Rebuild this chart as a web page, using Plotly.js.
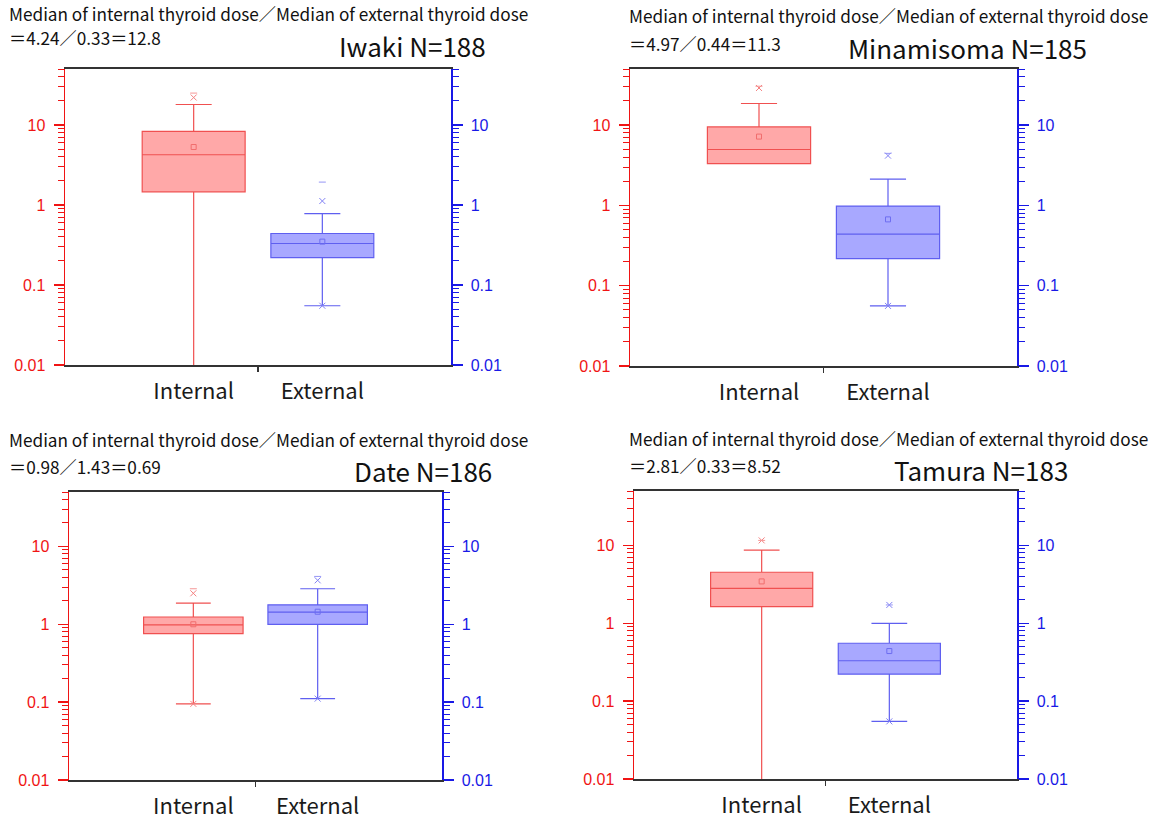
<!DOCTYPE html>
<html>
<head>
<meta charset="utf-8">
<script src="https://cdn.plot.ly/plotly-3.0.1.min.js"></script>
<style>html,body{margin:0;padding:0;background:#fff;}#chart{width:1163px;height:824px;}</style>
</head>
<body>
<div id="chart"></div>
<script>
// ---------------- data ----------------
const sites = ['Iwaki', 'Minamisoma', 'Date', 'Tamura'];
const nValues = [188, 185, 186, 183];
const headerLine1 = 'Median of internal thyroid dose／Median of external thyroid dose';
const ratioLines = ['＝4.24／0.33＝12.8', '＝4.97／0.44＝11.3', '＝0.98／1.43＝0.69', '＝2.81／0.33＝8.52'];
const categories = ['Internal', 'External'];

// Internal thyroid dose (left, red axis)
const intLower  = [0.001, 3.32, 0.095, 0.001];
const intQ1     = [1.46, 3.32, 0.76, 1.64];
const intMedian = [4.24, 4.97, 0.98, 2.81];
const intQ3     = [8.3, 9.5, 1.24, 4.52];
const intUpper  = [18.0, 18.6, 1.87, 8.7];
const intMean   = [5.3, 7.2, 1.0, 3.45];
const intP99    = [22.0, 29.0, 2.5, 11.6];
const intMax    = [25.0, 30.5, 2.86, 11.6];
const intP1     = [null, null, 0.095, null];

// External thyroid dose (right, blue axis)
const extLower  = [0.055, 0.056, 0.111, 0.055];
const extQ1     = [0.22, 0.217, 1.0, 0.222];
const extMedian = [0.33, 0.44, 1.43, 0.33];
const extQ3     = [0.44, 0.98, 1.78, 0.554];
const extUpper  = [0.78, 2.12, 2.86, 1.0];
const extMean   = [0.348, 0.67, 1.45, 0.44];
const extP99    = [1.12, 4.17, 3.67, 1.72];
const extMax    = [1.93, 4.45, 4.12, 1.72];
const extP1     = [0.055, 0.056, 0.111, 0.055];

// axis ticks
const yTickVals = [0.01, 0.1, 1, 10];
const yTickText = ['0.01', '0.1', '1', '10'];
const yRange = [0.01, 50];

// ---------------- layout (pixel geometry) ----------------
const W = 1163, H = 824;
const panels = [
  {x0: 65,  x1: 451,  y0: 69,  y1: 365, l1y: 14,  l2y: 38,  tx: 487,  ty: 46},
  {x0: 630, x1: 1017, y0: 69,  y1: 366, l1y: 16,  l2y: 44,  tx: 1088, ty: 48},
  {x0: 69,  x1: 442,  y0: 492, y1: 780, l1y: 439, l2y: 466, tx: 493,  ty: 470},
  {x0: 634, x1: 1017, y0: 491, y1: 779, l1y: 438, l2y: 465, tx: 1069, ty: 469}
];
const textLeft = [8, 628, 8, 628];

const RED = 'rgb(240,20,20)', BLUE = 'rgb(25,25,230)';
const minorVals = [];
[0.01, 0.1, 1, 10].forEach(d => { for (let k = 2; k <= 9; k++) { const v = d * k; if (v <= 50) minorVals.push(+v.toPrecision(3)); } });

const data = [];
const layout = {
  width: W, height: H, margin: {l: 0, r: 0, t: 0, b: 0},
  paper_bgcolor: '#fff', plot_bgcolor: '#fff', showlegend: false,
  hovermode: false, annotations: []
};

const cjk = '"Noto Sans CJK JP", "Noto Sans", sans-serif';

sites.forEach((site, i) => {
  const p = panels[i];
  const xi = i + 1, yl = 2 * i + 1, yr = 2 * i + 2;
  const xName = xi === 1 ? 'x' : 'x' + xi;
  const ylName = yl === 1 ? 'y' : 'y' + yl;
  const yrName = 'y' + yr;
  const xKey = xi === 1 ? 'xaxis' : 'xaxis' + xi;
  const ylKey = yl === 1 ? 'yaxis' : 'yaxis' + yl;
  const yrKey = 'yaxis' + yr;
  const xdom = [p.x0 / W, p.x1 / W];
  const ydom = [1 - p.y1 / H, 1 - p.y0 / H];

  layout[xKey] = {
    domain: xdom, anchor: ylName, range: [0, 3], fixedrange: true,
    tickvals: [1, 2], ticktext: categories, ticks: 'outside', ticklen: 6,
    tickcolor: 'rgba(0,0,0,0)', tickfont: {family: cjk, size: 22, color: '#1a1a1a'},
    showline: true, linecolor: '#333', linewidth: 1.6, mirror: true,
    showgrid: false, zeroline: false,
    minor: {tickvals: [1.5], ticks: 'outside', ticklen: 5, tickcolor: '#333', tickwidth: 1.5, showgrid: false}
  };
  const yBase = {
    type: 'log', domain: ydom, range: [Math.log10(yRange[0]), Math.log10(yRange[1])],
    fixedrange: true, tickmode: 'array', tickvals: yTickVals, ticktext: yTickText,
    ticks: 'outside', ticklen: 10, tickwidth: 1.3, showgrid: false, zeroline: false,
    showline: true, linewidth: 1.5, ticklabelstandoff: 5,
    tickfont: {family: 'Liberation Sans, Arial, sans-serif', size: 16},
    minor: {tickvals: minorVals, ticks: 'outside', ticklen: 6, tickwidth: 1, showgrid: false}
  };
  layout[ylKey] = Object.assign({}, yBase, {
    anchor: xName, side: 'left', linecolor: RED, tickcolor: RED,
    tickfont: Object.assign({}, yBase.tickfont, {color: RED}),
    minor: Object.assign({}, yBase.minor, {tickcolor: RED})
  });
  layout[yrKey] = Object.assign({}, yBase, {
    anchor: xName, side: 'right', overlaying: ylName, linecolor: BLUE, tickcolor: BLUE,
    tickfont: Object.assign({}, yBase.tickfont, {color: BLUE}),
    minor: Object.assign({}, yBase.minor, {tickcolor: BLUE})
  });

  // Boxes
  data.push({
    type: 'box', x: [1], xaxis: xName, yaxis: ylName,
    q1: [intQ1[i]], median: [intMedian[i]], q3: [intQ3[i]],
    lowerfence: [intLower[i]], upperfence: [intUpper[i]],
    width: 0.8, whiskerwidth: 0.35, boxpoints: false,
    fillcolor: 'rgb(255,168,168)', line: {color: 'rgb(240,80,80)', width: 1.2}
  });
  data.push({
    type: 'box', x: [2], xaxis: xName, yaxis: yrName,
    q1: [extQ1[i]], median: [extMedian[i]], q3: [extQ3[i]],
    lowerfence: [extLower[i]], upperfence: [extUpper[i]],
    width: 0.8, whiskerwidth: 0.35, boxpoints: false,
    fillcolor: 'rgb(168,168,255)', line: {color: 'rgb(95,95,240)', width: 1.2}
  });

  // Markers: mean (square), 1%/99% (x), min/max (dash)
  const addMarkers = (xv, yax, vals, symbol, color, size) => {
    const ys = vals.filter(v => v !== null && v !== undefined);
    if (!ys.length) return;
    data.push({
      type: 'scatter', mode: 'markers', x: ys.map(() => xv), y: ys,
      xaxis: xName, yaxis: yax, cliponaxis: true,
      marker: {symbol: symbol, size: size, color: color, line: {color: color, width: 1}}
    });
  };
  addMarkers(1, ylName, [intMean[i]], 'square-open', 'rgb(240,110,110)', 5);
  addMarkers(1, ylName, [intP99[i], intP1[i]], 'x-thin-open', 'rgb(245,130,130)', 6);
  addMarkers(1, ylName, [intMax[i]], 'line-ew-open', 'rgb(245,150,150)', 5);
  addMarkers(2, yrName, [extMean[i]], 'square-open', 'rgb(110,110,240)', 5);
  addMarkers(2, yrName, [extP99[i], extP1[i]], 'x-thin-open', 'rgb(130,130,245)', 6);
  addMarkers(2, yrName, [extMax[i]], 'line-ew-open', 'rgb(150,150,245)', 5);

  // Texts
  layout.annotations.push({
    xref: 'paper', yref: 'paper', x: textLeft[i] / W, y: 1 - p.l1y / H,
    xanchor: 'left', yanchor: 'middle', showarrow: false, borderpad: 0,
    text: headerLine1, font: {family: cjk, size: 17.2, color: '#111'}
  });
  layout.annotations.push({
    xref: 'paper', yref: 'paper', x: textLeft[i] / W, y: 1 - p.l2y / H,
    xanchor: 'left', yanchor: 'middle', showarrow: false, borderpad: 0,
    text: ratioLines[i], font: {family: cjk, size: 17.2, color: '#111'}
  });
  layout.annotations.push({
    xref: 'paper', yref: 'paper', x: p.tx / W, y: 1 - p.ty / H,
    xanchor: 'right', yanchor: 'middle', showarrow: false, borderpad: 0,
    text: site + ' N=' + nValues[i], font: {family: cjk, size: 26, color: '#111'}
  });
});

Plotly.newPlot('chart', data, layout, {staticPlot: true, displayModeBar: false});
</script>
</body>
</html>
